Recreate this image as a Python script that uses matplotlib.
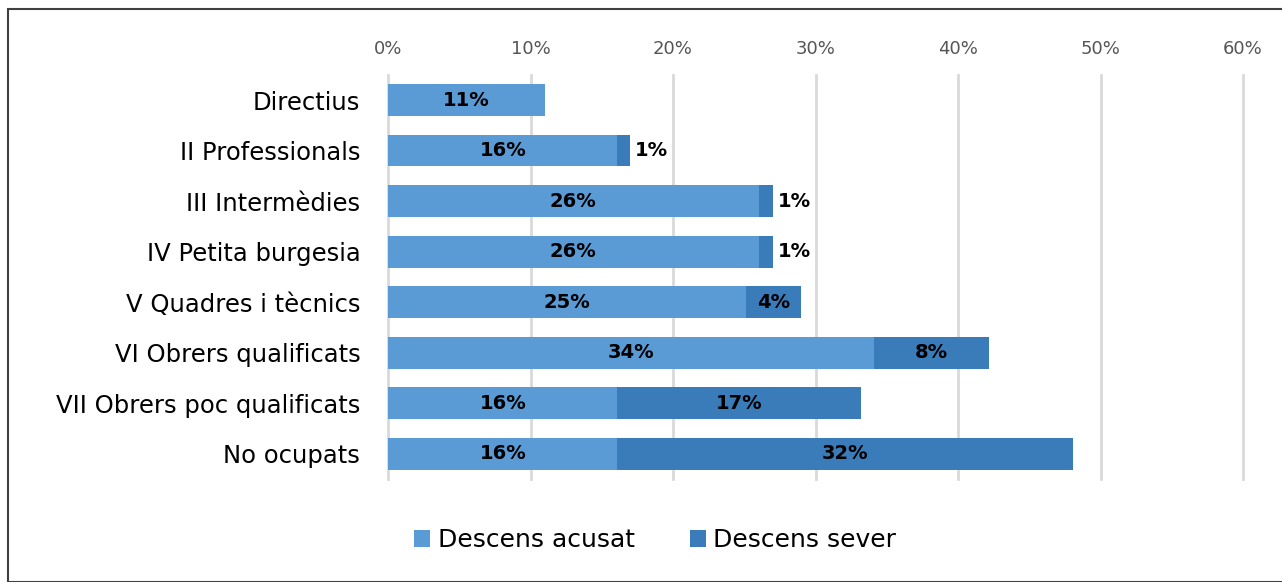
import matplotlib.pyplot as plt
from matplotlib.patches import Rectangle
from matplotlib.ticker import FuncFormatter

categories = ['Directius', 'II Professionals', 'III Intermèdies', 'IV Petita burgesia',
              'V Quadres i tècnics', 'VI Obrers qualificats', 'VII Obrers poc qualificats',
              'No ocupats']
acusat = [11.0, 16.1, 26.0, 26.0, 25.1, 34.1, 16.1, 16.1]
sever = [0.0, 0.9, 1.0, 1.0, 3.9, 8.1, 17.1, 32.0]
acusat_labels = ['11%', '16%', '26%', '26%', '25%', '34%', '16%', '16%']
sever_labels = ['', '1%', '1%', '1%', '4%', '8%', '17%', '32%']

c_acusat = '#5B9BD5'
c_sever = '#3A7BBA'

fig = plt.figure(figsize=(12.82, 5.82), dpi=100)
ax = fig.add_axes([0.3027, 0.1766, 0.9696 - 0.3027, 0.8716 - 0.1766])

y = list(range(len(categories)))
h = 0.63
ax.barh(y, acusat, height=h, color=c_acusat, label='Descens acusat', zorder=2)
ax.barh(y, sever, left=acusat, height=h, color=c_sever, label='Descens sever', zorder=2)

for i in y:
    ax.text(acusat[i] / 2, i, acusat_labels[i], ha='center', va='center',
            fontsize=14, fontweight='bold', zorder=3)
    if sever_labels[i]:
        if sever[i] < 2:
            ax.text(acusat[i] + sever[i] + 0.35, i, sever_labels[i], ha='left', va='center',
                    fontsize=14, fontweight='bold', zorder=3)
        else:
            ax.text(acusat[i] + sever[i] / 2, i, sever_labels[i], ha='center', va='center',
                    fontsize=14, fontweight='bold', zorder=3)

ax.set_xlim(0, 60)
ax.set_ylim(len(categories) - 0.5, -0.5)
ax.set_xticks(range(0, 61, 10))
ax.xaxis.set_major_formatter(FuncFormatter(lambda v, p: '%d%%' % v))
ax.xaxis.tick_top()
ax.tick_params(axis='x', length=0, labelsize=13, labelcolor='#555555', pad=12)
ax.set_yticks(y)
ax.set_yticklabels(categories, fontsize=17.5)
ax.tick_params(axis='y', length=0, pad=20)
ax.grid(axis='x', color='#D9D9D9', linewidth=2, zorder=0)
for gl in ax.get_xgridlines():
    gl.set_clip_on(False)
for s in ax.spines.values():
    s.set_visible(False)

ax.legend(loc='center', bbox_to_anchor=(655 / 1282, 1 - 540 / 582), bbox_transform=fig.transFigure,
          ncol=2, frameon=False, fontsize=18, handlelength=0.65, handleheight=0.65,
          handletextpad=0.3, columnspacing=2.2)

fig.patches.append(Rectangle((8 / 1282, 0), 1.1, 1 - 9 / 582, transform=fig.transFigure,
                             fill=False, edgecolor='#404040', linewidth=1.5))

fig.savefig('out.png', dpi=100)
